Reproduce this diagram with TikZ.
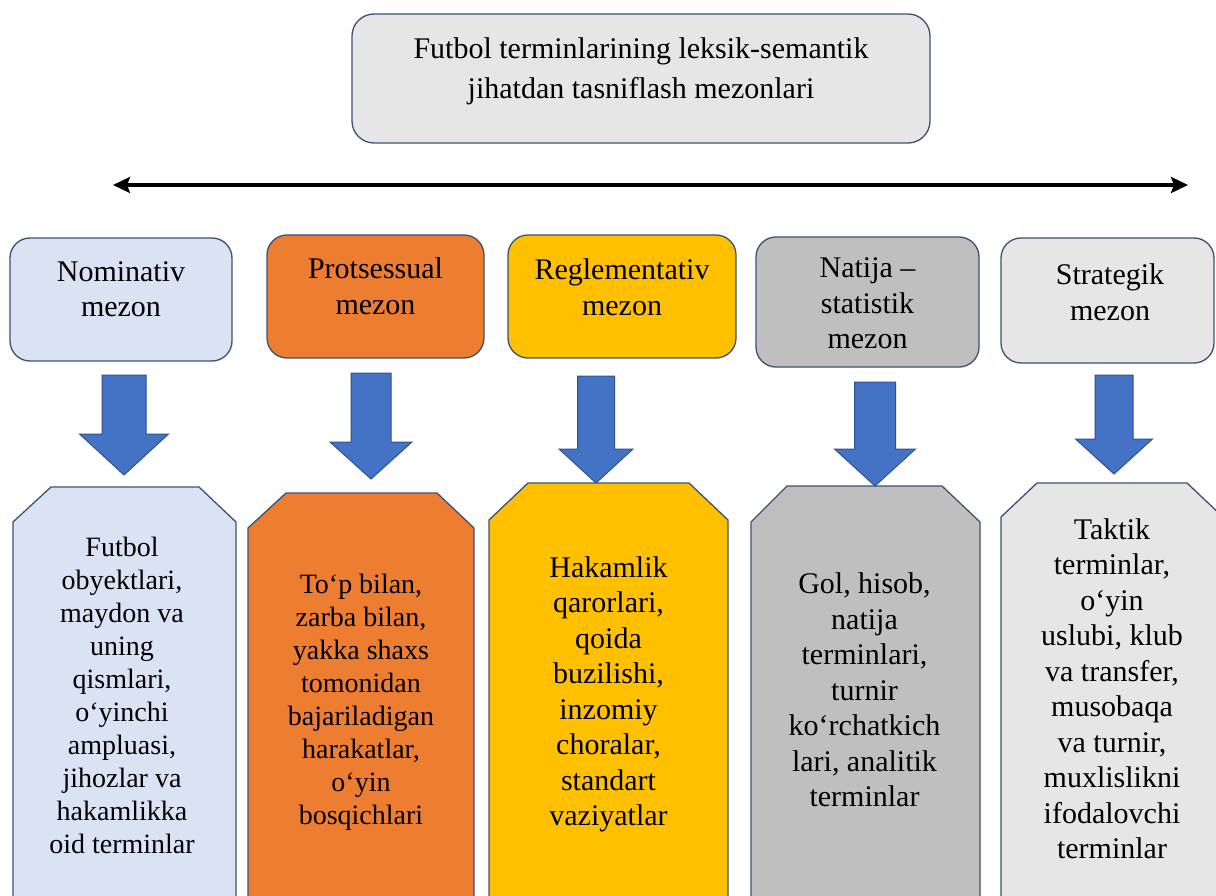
\documentclass[tikz,border=0pt]{standalone}
\usepackage{fontspec}
\setmainfont{Liberation Serif}
\usetikzlibrary{arrows.meta}
\definecolor{edge}{HTML}{3B5275}
\definecolor{titlefill}{HTML}{E7E6E6}
\definecolor{nomfill}{HTML}{DAE3F3}
\definecolor{profill}{HTML}{ED7D31}
\definecolor{regfill}{HTML}{FFC000}
\definecolor{natfill}{HTML}{BFBFBF}
\definecolor{strfill}{HTML}{E7E6E6}
\definecolor{arrfill}{HTML}{4472C4}
\definecolor{arredge}{HTML}{2F528F}
\tikzset{
  rbox/.style={draw=edge, line width=1.3pt, rounded corners=20pt, inner sep=0pt},
  chbox/.style={draw=edge, line width=1.3pt},
  blockarr/.style={draw=arredge, line width=1pt, fill=arrfill, line join=miter},
  txtbig/.style={align=center, inner sep=0pt, font={\fontsize{30}{35.5}\selectfont}},
  txtsmall/.style={align=center, inner sep=0pt, font={\fontsize{28}{33}\selectfont}},
  titletxt/.style={align=center, inner sep=0pt, font={\fontsize{30}{40}\selectfont}},
  bothends/.style={line width=3.5pt, {Stealth[length=17pt,width=16pt,inset=3pt]}-{Stealth[length=17pt,width=16pt,inset=3pt]}}
}
% cx, top, shaft half width, head y, head half width, tip y
\newcommand{\blockarrowdown}[6]{%
  \draw[blockarr] (#1-#3,#2) -- (#1+#3,#2) -- (#1+#3,#4) -- (#1+#5,#4) -- (#1,#6) -- (#1-#5,#4) -- (#1-#3,#4) -- cycle;}
% fill, left, right, top, chamfer y, top-left x, top-right x
\newcommand{\chamferbox}[7]{%
  \draw[chbox, fill=#1] (#2,905) -- (#2,#5) -- (#6,#4) -- (#7,#4) -- (#3,#5) -- (#3,905) -- cycle;}
\begin{document}
\begin{tikzpicture}[x=1pt,y=-1pt]
\clip (0,0) rectangle (1216,896);
\fill[white] (0,0) rectangle (1216,896);

% title
\node[rbox, fill=titlefill, minimum width=578pt, minimum height=129pt, rounded corners=22pt] (title) at (641,78.5) {};
\node[titletxt] (titletext) at (641,71) {Futbol terminlarining leksik-semantik\\jihatdan tasniflash mezonlari};

% double arrow
\coordinate (axisL) at (113,185);
\coordinate (axisR) at (1188,185);
\draw[bothends] (axisL) -- (axisR);

% top boxes
\node[rbox, fill=nomfill, minimum width=222pt, minimum height=123pt] (t1) at (121,299.5) {};
\node[rbox, fill=profill, minimum width=217pt, minimum height=123pt] (t2) at (375.5,296.5) {};
\node[rbox, fill=regfill, minimum width=228pt, minimum height=123pt] (t3) at (622,296.5) {};
\node[rbox, fill=natfill, minimum width=223pt, minimum height=130pt] (t4) at (867.5,302) {};
\node[rbox, fill=strfill, minimum width=213pt, minimum height=125pt] (t5) at (1107.5,300.5) {};

\node[txtbig] (t1text) at (121,289) {Nominativ\\mezon};
\node[txtbig] (t2text) at (375.5,286) {Protsessual\\mezon};
\node[txtbig] (t3text) at (622,287) {Reglementativ\\mezon};
\node[txtbig] (t4text) at (867.5,303.5) {Natija –\\statistik\\mezon};
\node[txtbig] (t5text) at (1110,292) {Strategik\\mezon};

% bottom boxes
\chamferbox{nomfill}{13}{236}{487}{522}{51}{199}
\chamferbox{profill}{248}{474}{493}{528}{286}{437}
\chamferbox{regfill}{489}{728}{483}{520}{528}{689}
\chamferbox{natfill}{751}{980}{486}{522}{787}{942}
\chamferbox{strfill}{1001}{1223}{483}{517}{1037}{1187}

\node[txtsmall] (b1text) at (122,695) {Futbol\\obyektlari,\\maydon va\\uning\\qismlari,\\o‘yinchi\\ampluasi,\\jihozlar va\\hakamlikka\\oid terminlar};
\node[txtsmall] (b2text) at (361,702) {To‘p bilan,\\zarba bilan,\\yakka shaxs\\tomonidan\\bajariladigan\\harakatlar,\\o‘yin\\bosqichlari};
\node[txtbig] (b3text) at (608.5,694.5) {Hakamlik\\qarorlari,\\qoida\\buzilishi,\\inzomiy\\choralar,\\standart\\vaziyatlar};
\node[txtbig] (b4text) at (864.5,690) {Gol, hisob,\\natija\\terminlari,\\turnir\\ko‘rchatkich\\lari, analitik\\terminlar};
\node[txtbig] (b5text) at (1112,688.5) {Taktik\\terminlar,\\o‘yin\\uslubi, klub\\va transfer,\\musobaqa\\va turnir,\\muxlislikni\\ifodalovchi\\terminlar};

% block arrows
\blockarrowdown{124}{375}{22}{434}{44.5}{475}
\blockarrowdown{371}{373}{20}{442}{41}{479}
\blockarrowdown{596}{376}{18.5}{449}{37}{483}
\blockarrowdown{875}{382}{20.5}{449}{40.5}{486}
\blockarrowdown{1114}{375}{19}{439}{38.5}{474}
\end{tikzpicture}
\end{document}
